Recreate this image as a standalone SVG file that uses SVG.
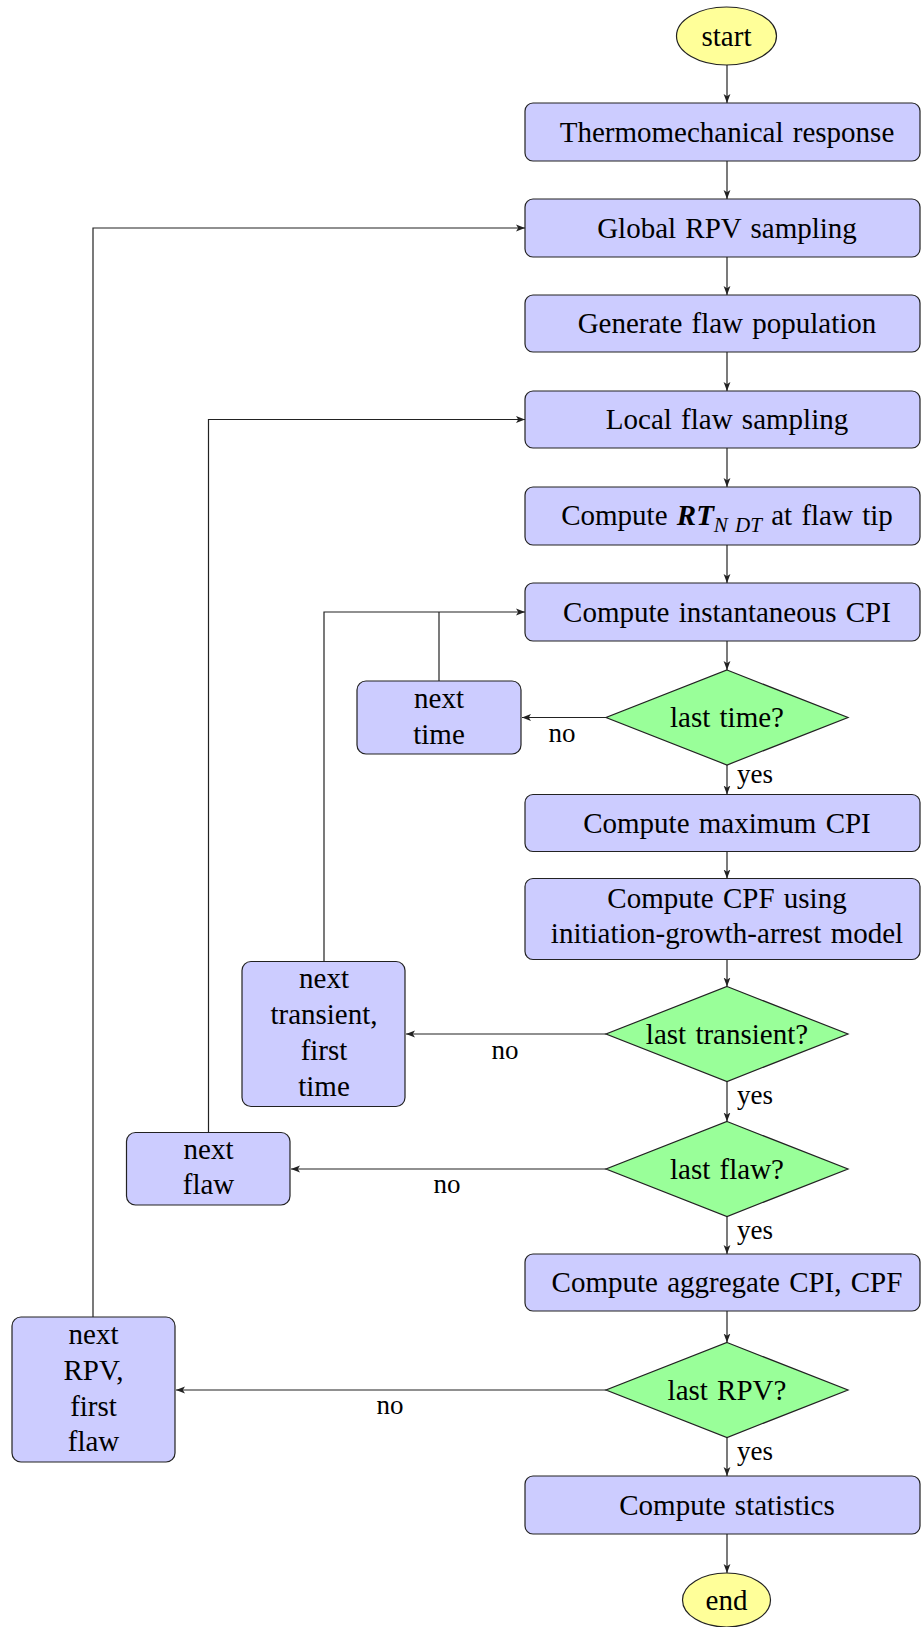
<svg xmlns="http://www.w3.org/2000/svg" width="921" height="1627" viewBox="0 0 921 1627">
<style>
text{font-family:"Liberation Serif","Times New Roman",serif;font-size:29px;fill:#000;text-anchor:middle;word-spacing:2px}
.box{fill:#ccccff;stroke:#222;stroke-width:1.2}
.dia{fill:#99ff99;stroke:#222;stroke-width:1.2}
.term{fill:#ffff99;stroke:#222;stroke-width:1.2}
.ln{fill:none;stroke:#222;stroke-width:1.2}
.lbl{font-size:27px}
.l{text-anchor:start}
</style>
<defs>
<marker id="ar" markerUnits="userSpaceOnUse" markerWidth="10" markerHeight="8" refX="9" refY="4" orient="auto">
<path d="M0,0.6 L9,4 L0,7.4 L2.2,4 z" fill="#222"/>
</marker>
</defs>
<g id="connectors">
<path class="ln" marker-end="url(#ar)" d="M727,65 V103"/>
<path class="ln" marker-end="url(#ar)" d="M727,161 V199"/>
<path class="ln" marker-end="url(#ar)" d="M727,257 V295"/>
<path class="ln" marker-end="url(#ar)" d="M727,352 V391"/>
<path class="ln" marker-end="url(#ar)" d="M727,448 V487"/>
<path class="ln" marker-end="url(#ar)" d="M727,545 V583"/>
<path class="ln" marker-end="url(#ar)" d="M727,641 V670"/>
<path class="ln" marker-end="url(#ar)" d="M727,765 V794.5"/>
<path class="ln" marker-end="url(#ar)" d="M727,851.5 V878.5"/>
<path class="ln" marker-end="url(#ar)" d="M727,959.5 V986.5"/>
<path class="ln" marker-end="url(#ar)" d="M727,1081.5 V1121.5"/>
<path class="ln" marker-end="url(#ar)" d="M727,1216.5 V1254"/>
<path class="ln" marker-end="url(#ar)" d="M727,1311 V1342.5"/>
<path class="ln" marker-end="url(#ar)" d="M727,1437.5 V1476"/>
<path class="ln" marker-end="url(#ar)" d="M727,1534 V1573"/>
<path class="ln" marker-end="url(#ar)" d="M606,717.5 H522"/>
<path class="ln" marker-end="url(#ar)" d="M606,1034 H406"/>
<path class="ln" marker-end="url(#ar)" d="M606,1169 H291"/>
<path class="ln" marker-end="url(#ar)" d="M606,1390 H176"/>
<path class="ln" marker-end="url(#ar)" d="M324,961.5 V612 H525"/>
<path class="ln" d="M439,681 V612"/>
<path class="ln" marker-end="url(#ar)" d="M208.5,1132.5 V419.5 H525"/>
<path class="ln" marker-end="url(#ar)" d="M93,1317 V228 H525"/>
<text class="lbl" x="562" y="742">no</text>
<text class="lbl" x="505" y="1059">no</text>
<text class="lbl" x="447" y="1193">no</text>
<text class="lbl" x="390" y="1414">no</text>
<text class="lbl l" x="737" y="783">yes</text>
<text class="lbl l" x="737" y="1104">yes</text>
<text class="lbl l" x="737" y="1239">yes</text>
<text class="lbl l" x="737" y="1460">yes</text>
</g>
<g id="start"><ellipse class="term" cx="726.5" cy="36" rx="50" ry="29"/><text x="726.5" y="46">start</text></g>
<g id="thermo"><rect class="box" x="525" y="103" width="395" height="58" rx="8"/><text x="727" y="142">Thermomechanical response</text></g>
<g id="global"><rect class="box" x="525" y="199" width="395" height="58" rx="8"/><text x="727" y="238">Global RPV sampling</text></g>
<g id="genflaw"><rect class="box" x="525" y="295" width="395" height="57" rx="8"/><text x="727" y="333">Generate flaw population</text></g>
<g id="localflaw"><rect class="box" x="525" y="391" width="395" height="57" rx="8"/><text x="727" y="429">Local flaw sampling</text></g>
<g id="rtndt"><rect class="box" x="525" y="487" width="395" height="58" rx="8"/><text x="727" y="525">Compute <tspan font-style="italic" font-weight="bold">RT</tspan><tspan font-style="italic" font-size="21" dy="7">N DT</tspan><tspan dy="-7"> at flaw tip</tspan></text></g>
<g id="instcpi"><rect class="box" x="525" y="583" width="395" height="58" rx="8"/><text x="727" y="622">Compute instantaneous CPI</text></g>
<g id="lasttime"><polygon class="dia" points="727,670 848,717.5 727,765 606,717.5"/><text x="727" y="727">last time?</text></g>
<g id="nexttime"><rect class="box" x="357" y="681" width="164" height="73" rx="9"/><text x="439" y="708">next</text><text x="439" y="744">time</text></g>
<g id="maxcpi"><rect class="box" x="525" y="794.5" width="395" height="57" rx="8"/><text x="727" y="833">Compute maximum CPI</text></g>
<g id="cpf"><rect class="box" x="525" y="878.5" width="395" height="81" rx="8"/><text x="727" y="908">Compute CPF using</text><text x="727" y="943">initiation-growth-arrest model</text></g>
<g id="lasttransient"><polygon class="dia" points="727,986.5 848,1034 727,1081.5 606,1034"/><text x="727" y="1044">last transient?</text></g>
<g id="nexttransient"><rect class="box" x="242" y="961.5" width="163" height="145" rx="9"/><text x="324" y="988">next</text><text x="324" y="1024">transient,</text><text x="324" y="1060">first</text><text x="324" y="1096">time</text></g>
<g id="lastflaw"><polygon class="dia" points="727,1121.5 848,1169 727,1216.5 606,1169"/><text x="727" y="1179">last flaw?</text></g>
<g id="nextflaw"><rect class="box" x="126.5" y="1132.5" width="163.5" height="72.5" rx="9"/><text x="208.5" y="1159">next</text><text x="208.5" y="1194">flaw</text></g>
<g id="aggregate"><rect class="box" x="525" y="1254" width="395" height="57" rx="8"/><text x="727" y="1292">Compute aggregate CPI, CPF</text></g>
<g id="lastrpv"><polygon class="dia" points="727,1342.5 848,1390 727,1437.5 606,1390"/><text x="727" y="1400">last RPV?</text></g>
<g id="nextrpv"><rect class="box" x="12" y="1317" width="163" height="145" rx="9"/><text x="93.5" y="1344">next</text><text x="93.5" y="1380">RPV,</text><text x="93.5" y="1416">first</text><text x="93.5" y="1451">flaw</text></g>
<g id="statistics"><rect class="box" x="525" y="1476" width="395" height="58" rx="8"/><text x="727" y="1515">Compute statistics</text></g>
<g id="end"><ellipse class="term" cx="726.5" cy="1600" rx="44" ry="27"/><text x="726.5" y="1610">end</text></g>
</svg>
